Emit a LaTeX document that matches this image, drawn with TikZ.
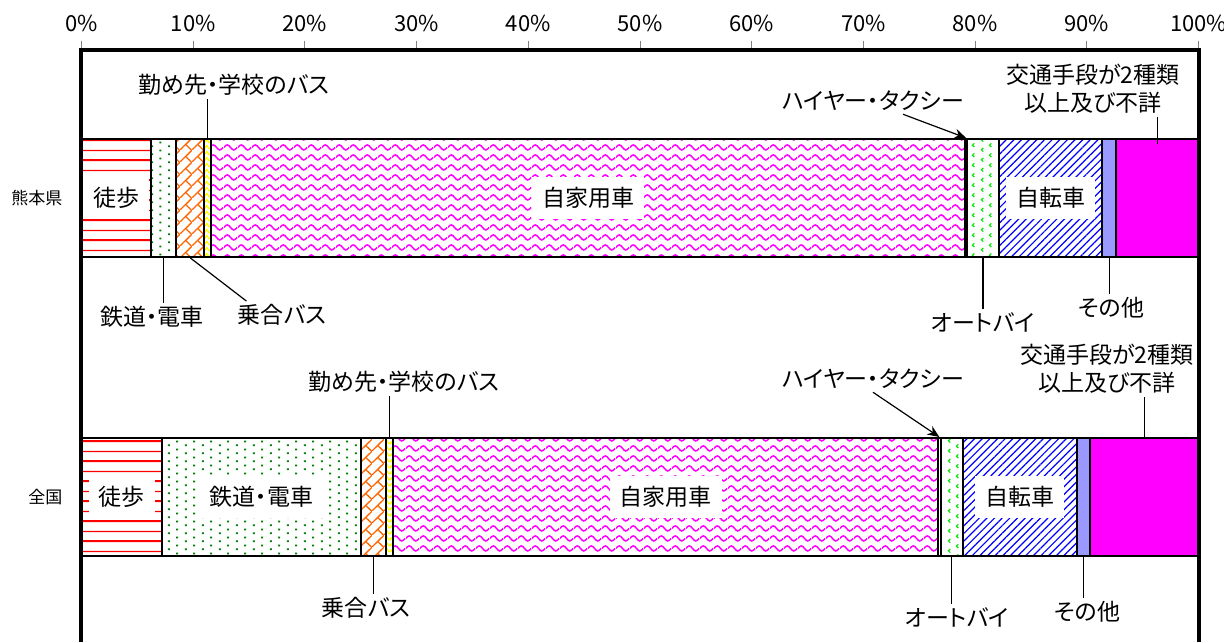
\documentclass[tikz,border=0pt]{standalone}
\usepackage{fontspec}
\setmainfont{Noto Sans CJK JP}[RawFeature=+palt]
\usetikzlibrary{patterns.meta,arrows.meta}

\definecolor{walkred}{RGB}{255,0,0}
\definecolor{railgreen}{RGB}{0,128,0}
\definecolor{busorange}{RGB}{255,102,0}
\definecolor{workyellow}{RGB}{255,255,0}
\definecolor{carmagenta}{RGB}{255,0,255}
\definecolor{motogreen}{RGB}{0,230,0}
\definecolor{bikeblue}{RGB}{0,0,255}
\definecolor{otherblue}{RGB}{153,153,255}
\definecolor{restmagenta}{RGB}{255,0,255}

% hatchings of the bar segments
\tikzdeclarepattern{name=walklines, type=uncolored,
  bottom left={(0pt,0pt)}, top right={(4pt,10pt)}, tile size={(4pt,10pt)},
  code={\draw[line width=1.1pt] (-1pt,1pt) -- (5pt,1pt);
        \draw[line width=0.6pt] (-1pt,6pt) -- (5pt,6pt);}}
\tikzdeclarepattern{name=raildots, type=uncolored,
  bottom left={(0pt,0pt)}, top right={(8.3pt,4.15pt)}, tile size={(8.3pt,4.15pt)},
  code={\fill (1pt,1pt) rectangle (2pt,2pt);
        \fill (5.15pt,3pt) rectangle (6.15pt,4pt);}}
\tikzdeclarepattern{name=busbricks, type=uncolored,
  bottom left={(0pt,0pt)}, top right={(6pt,6pt)}, tile size={(6pt,6pt)},
  code={\draw[line width=0.7pt] (-1pt,-1pt) -- (7pt,7pt);
        \draw[line width=0.7pt] (3pt,3pt) -- (6.5pt,-0.5pt);}}
\tikzdeclarepattern{name=workzigzag, type=uncolored,
  bottom left={(0pt,0pt)}, top right={(3pt,3pt)}, tile size={(3pt,3pt)},
  code={\draw[line width=0.8pt] (0pt,0.5pt) -- (1.5pt,2.5pt) -- (3pt,0.5pt);}}
\tikzdeclarepattern{name=carwaves, type=uncolored,
  bottom left={(0pt,0pt)}, top right={(7pt,5pt)}, tile size={(7pt,5pt)},
  code={\draw[line width=0.8pt] (0pt,2.5pt) sin (1.75pt,3.9pt) cos (3.5pt,2.5pt)
        sin (5.25pt,1.1pt) cos (7pt,2.5pt);}}
\tikzdeclarepattern{name=motomarks, type=uncolored,
  bottom left={(0pt,0pt)}, top right={(8.3pt,5pt)}, tile size={(8.3pt,5pt)},
  code={\draw[line width=0.6pt] (2.2pt,2.2pt) -- (1.2pt,1.2pt) -- (2.2pt,0.2pt);
        \draw[line width=0.6pt] (6.3pt,4.7pt) -- (5.3pt,3.7pt) -- (6.3pt,2.7pt);}}

\tikzset{
  seg/.style={draw, line width=1pt, inner sep=0pt, minimum height=59pt},
  walkfill/.style={pattern=walklines, pattern color=walkred},
  railfill/.style={pattern=raildots, pattern color=railgreen},
  busfill/.style={pattern=busbricks, pattern color=busorange},
  workfill/.style={pattern=workzigzag, pattern color=workyellow},
  carfill/.style={pattern=carwaves, pattern color=carmagenta},
  taxifill/.style={fill=white},
  motofill/.style={pattern=motomarks, pattern color=motogreen},
  bikefill/.style={pattern={Lines[angle=45,distance=2.7pt,line width=0.6pt]}, pattern color=bikeblue},
  otherfill/.style={fill=otherblue},
  restfill/.style={fill=restmagenta},
  lab/.style={font=\fontsize{11.5}{14}\selectfont, inner sep=1.5pt},
  inlab/.style={lab, fill=white, inner xsep=5pt, inner ysep=5pt},
  arealab/.style={font=\fontsize{8.5}{10}\selectfont, inner sep=1pt},
  ticklab/.style={font=\fontsize{11}{13}\selectfont, inner sep=1pt},
  leader/.style={line width=0.6pt},
}

\begin{document}
\begin{tikzpicture}[x=5.585pt,y=-0.5pt,>={Stealth[length=6pt,width=5pt]}]
  \useasboundingbox (-7.296,0) rectangle (102.28,642);
  % axis ticks
  \foreach \p in {0,10,...,100}{
    \draw[gray,line width=0.5pt] (\p,41) -- (\p,48);
    \node[ticklab] (t\p) at (\p,23) {\p\%};
  }
  % 熊本県
  \foreach \i/\a/\b/\s in {1/0/6.2/walkfill, 2/6.2/8.5/railfill, 3/8.5/11.0/busfill,
      4/11.0/11.6/workfill, 5/11.6/79.1/carfill, 6/79.1/79.3/taxifill,
      7/79.3/82.1/motofill, 8/82.1/91.4/bikefill, 9/91.4/92.6/otherfill, 10/92.6/100/restfill}
    \node[seg,\s,minimum width={(\b-\a)*5.585pt}] (k\i) at ({(\a+\b)/2},198) {};
  % 全国
  \foreach \i/\a/\b/\s in {1/0/7.2/walkfill, 2/7.2/25.0/railfill, 3/25.0/27.3/busfill,
      4/27.3/27.9/workfill, 5/27.9/76.7/carfill, 6/76.7/76.9/taxifill,
      7/76.9/78.9/motofill, 8/78.9/89.1/bikefill, 9/89.1/90.3/otherfill, 10/90.3/100/restfill}
    \node[seg,\s,minimum width={(\b-\a)*5.585pt}] (z\i) at ({(\a+\b)/2},497) {};

  \node[arealab,anchor=east] (kname) at (-1.5,198) {熊本県};
  \node[arealab,anchor=east] (zname) at (-1.5,497) {全国};

  % labels inside the bars
  \node[inlab] (ik1) at (k1) {徒歩};
  \node[inlab] (ik5) at (k5) {自家用車};
  \node[inlab] (ik8) at (k8) {自転車};
  \node[inlab] (iz1) at (z1) {徒歩};
  \node[inlab] (iz2) at (z2) {鉄道・電車};
  \node[inlab] (iz5) at (z5) {自家用車};
  \node[inlab] (iz8) at (z8) {自転車};

  % labels outside, 熊本県
  \node[lab] (lk4) at (13.65,85) {勤め先・学校のバス};
  \node[lab] (lk2) at (6.31,317) {鉄道・電車};
  \node[lab] (lk3) at (17.95,315) {乗合バス};
  \node[lab] (lk6) at (70.86,101) {ハイヤー・タクシー};
  \node[lab] (lk7) at (80.7,322) {オートバイ};
  \node[lab] (lk9) at (92.17,308) {その他};
  \node[lab,align=center] (lk10) at (90.55,89) {交通手段が2種類\\以上及び不詳};
  \draw[leader] (k4.north) -- (k4.north |- lk4.south);
  \draw[leader] (k2.south) -- (k2.south |- lk2.north);
  \draw[leader] (k3.south) -- ([xshift=6pt]lk3.north west);
  \draw[leader,->] ([xshift=15pt]lk6.south) -- (k6.north);
  \draw[leader] (k7.south) -- (k7.south |- lk7.north);
  \draw[leader] (k9.south) -- (k9.south |- lk9.north);
  \draw[leader] ([yshift=-3pt]k10.north) -- (k10.north |- lk10.south);

  % labels outside, 全国
  \node[lab] (lz4) at (28.87,382) {勤め先・学校のバス};
  \node[lab] (lz3) at (25.47,608) {乗合バス};
  \node[lab] (lz6) at (70.86,379) {ハイヤー・タクシー};
  \node[lab] (lz7) at (78.38,617) {オートバイ};
  \node[lab] (lz9) at (90.02,612) {その他};
  \node[lab,align=center] (lz10) at (91.81,369) {交通手段が2種類\\以上及び不詳};
  \draw[leader] (z4.north) -- (z4.north |- lz4.south);
  \draw[leader] (z3.south) -- (z3.south |- lz3.north);
  \draw[leader,->] (lz6.south) -- (z6.north);
  \draw[leader] (z7.south) -- (z7.south |- lz7.north);
  \draw[leader] (z9.south) -- (z9.south |- lz9.north);
  \draw[leader] (z10.north) -- (z10.north |- lz10.south);

  % frame
  \draw[line width=2pt] (0,642) -- (0,50) -- (100,50) -- (100,642);
\end{tikzpicture}
\end{document}
